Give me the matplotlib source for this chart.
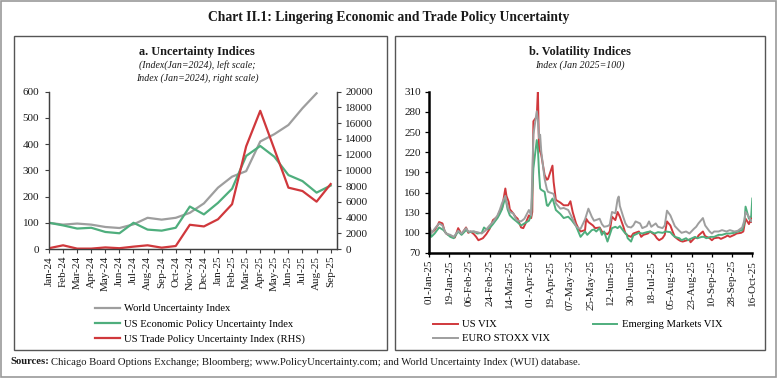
import matplotlib
matplotlib.use("Agg")
import matplotlib.pyplot as plt
from matplotlib.patches import Rectangle
import pandas as pd
import numpy as np

plt.rcParams['font.family'] = ['Liberation Serif', 'DejaVu Serif']

# ---------------- Panel a data ----------------
months = ['Jan-24', 'Feb-24', 'Mar-24', 'Apr-24', 'May-24', 'Jun-24', 'Jul-24', 'Aug-24',
          'Sep-24', 'Oct-24', 'Nov-24', 'Dec-24', 'Jan-25', 'Feb-25', 'Mar-25', 'Apr-25',
          'May-25', 'Jun-25', 'Jul-25', 'Aug-25', 'Sep-25']
wui = [100, 93, 97, 93, 84, 80, 94, 119, 112, 119, 138, 174, 234, 276, 297, 410,
       438, 473, 537, 594, np.nan]
us_epu = [100, 90, 78, 81, 65, 60, 100, 74, 70, 81, 162, 132, 176, 230, 355, 393,
          352, 282, 259, 215, 242]
us_tpu = [100, 470, 50, 50, 200, 100, 300, 470, 170, 380, 3080, 2870, 3780, 5700,
          13050, 17570, 12700, 7800, 7370, 6020, 8260]

# ---------------- Panel b data ----------------
vix_dates = ['2025-01-02', '2025-01-03', '2025-01-06', '2025-01-09', '2025-01-10', '2025-01-13',
             '2025-01-15', '2025-01-17', '2025-01-21', '2025-01-24', '2025-01-27', '2025-01-30',
             '2025-02-03', '2025-02-05', '2025-02-07', '2025-02-10', '2025-02-12', '2025-02-14',
             '2025-02-18', '2025-02-21', '2025-02-24', '2025-02-27', '2025-03-03', '2025-03-05',
             '2025-03-07', '2025-03-10', '2025-03-11', '2025-03-13', '2025-03-14', '2025-03-17',
             '2025-03-19', '2025-03-21', '2025-03-24', '2025-03-26', '2025-03-28', '2025-03-31',
             '2025-04-02', '2025-04-03', '2025-04-04', '2025-04-07', '2025-04-08', '2025-04-09',
             '2025-04-10', '2025-04-11', '2025-04-14', '2025-04-16', '2025-04-17', '2025-04-21',
             '2025-04-22', '2025-04-24', '2025-04-28', '2025-05-01', '2025-05-05', '2025-05-07',
             '2025-05-09', '2025-05-12', '2025-05-14', '2025-05-16', '2025-05-20', '2025-05-21',
             '2025-05-23', '2025-05-27', '2025-05-29', '2025-06-02', '2025-06-04', '2025-06-06',
             '2025-06-09', '2025-06-11', '2025-06-13', '2025-06-16', '2025-06-18', '2025-06-20',
             '2025-06-23', '2025-06-25', '2025-06-27', '2025-06-30', '2025-07-02', '2025-07-07',
             '2025-07-09', '2025-07-11', '2025-07-15', '2025-07-17', '2025-07-21', '2025-07-23',
             '2025-07-25', '2025-07-28', '2025-07-30', '2025-08-01', '2025-08-04', '2025-08-06',
             '2025-08-08', '2025-08-11', '2025-08-13', '2025-08-15', '2025-08-19', '2025-08-21',
             '2025-08-22', '2025-08-26', '2025-08-28', '2025-08-29', '2025-09-02', '2025-09-04',
             '2025-09-08', '2025-09-10', '2025-09-12', '2025-09-16', '2025-09-18', '2025-09-22',
             '2025-09-24', '2025-09-26', '2025-09-30', '2025-10-02', '2025-10-06', '2025-10-08',
             '2025-10-10', '2025-10-13', '2025-10-14', '2025-10-15', '2025-10-16']
vix_vals = [105, 100, 104, 112, 116, 114, 102, 98, 95, 93, 107, 98,
            108, 100, 102, 98, 94, 89, 92, 98, 106, 119, 124, 132,
            136, 166, 155, 146, 135, 129, 124, 121, 108, 107, 114, 126,
            122, 131, 266, 273, 312, 225, 221, 216, 186, 179, 180, 200,
            176, 149, 145, 141, 141, 147, 131, 114, 107, 102, 104, 121,
            116, 111, 107, 108, 102, 100, 98, 102, 124, 119, 131, 124,
            110, 99, 96, 94, 99, 102, 94, 97, 99, 102, 97, 92,
            89, 92, 97, 117, 111, 102, 94, 90, 88, 87, 89, 90,
            86, 93, 92, 96, 102, 95, 92, 89, 92, 93, 91, 94,
            96, 94, 97, 99, 100, 102, 121, 113, 118, 116, 132]

em_dates = ['2025-01-02', '2025-01-03', '2025-01-06', '2025-01-10', '2025-01-14', '2025-01-16',
            '2025-01-20', '2025-01-23', '2025-01-27', '2025-01-30', '2025-02-03', '2025-02-06',
            '2025-02-10', '2025-02-13', '2025-02-17', '2025-02-19', '2025-02-21', '2025-02-24',
            '2025-02-27', '2025-03-03', '2025-03-05', '2025-03-07', '2025-03-10', '2025-03-12',
            '2025-03-14', '2025-03-17', '2025-03-20', '2025-03-24', '2025-03-27', '2025-03-31',
            '2025-04-02', '2025-04-04', '2025-04-07', '2025-04-08', '2025-04-09', '2025-04-10',
            '2025-04-11', '2025-04-14', '2025-04-16', '2025-04-17', '2025-04-21', '2025-04-22',
            '2025-04-24', '2025-04-28', '2025-05-01', '2025-05-05', '2025-05-08', '2025-05-12',
            '2025-05-14', '2025-05-16', '2025-05-20', '2025-05-22', '2025-05-26', '2025-05-28',
            '2025-05-30', '2025-06-02', '2025-06-04', '2025-06-06', '2025-06-09', '2025-06-11',
            '2025-06-13', '2025-06-16', '2025-06-18', '2025-06-20', '2025-06-24', '2025-06-26',
            '2025-06-27', '2025-06-30', '2025-07-02', '2025-07-07', '2025-07-10', '2025-07-14',
            '2025-07-17', '2025-07-21', '2025-07-24', '2025-07-28', '2025-07-31', '2025-08-04',
            '2025-08-06', '2025-08-08', '2025-08-12', '2025-08-14', '2025-08-18', '2025-08-20',
            '2025-08-22', '2025-08-26', '2025-08-28', '2025-09-01', '2025-09-03', '2025-09-05',
            '2025-09-09', '2025-09-12', '2025-09-16', '2025-09-19', '2025-09-23', '2025-09-26',
            '2025-09-30', '2025-10-03', '2025-10-07', '2025-10-09', '2025-10-10', '2025-10-13',
            '2025-10-15', '2025-10-16']
em_vals = [102, 94, 99, 108, 104, 100, 94, 92, 102, 97, 104, 101,
           102, 99, 100, 108, 105, 107, 113, 122, 128, 135, 153, 135,
           126, 121, 117, 111, 114, 118, 126, 196, 238, 225, 190, 166,
           164, 161, 141, 140, 151, 146, 134, 128, 122, 124, 119, 110,
           102, 94, 102, 97, 104, 105, 102, 107, 97, 102, 87, 97,
           107, 109, 107, 110, 101, 98, 92, 87, 96, 100, 99, 101,
           102, 99, 101, 100, 102, 101, 97, 94, 92, 89, 92, 89,
           91, 94, 92, 94, 94, 92, 94, 94, 97, 97, 99, 99,
           100, 102, 104, 115, 139, 121, 124, 151]

vstoxx_dates = ['2025-01-02', '2025-01-03', '2025-01-06', '2025-01-10', '2025-01-13', '2025-01-16',
                '2025-01-20', '2025-01-23', '2025-01-27', '2025-01-30', '2025-02-03', '2025-02-05',
                '2025-02-10', '2025-02-13', '2025-02-17', '2025-02-20', '2025-02-24', '2025-02-27',
                '2025-03-03', '2025-03-05', '2025-03-07', '2025-03-10', '2025-03-12', '2025-03-14',
                '2025-03-17', '2025-03-20', '2025-03-24', '2025-03-27', '2025-03-31', '2025-04-02',
                '2025-04-04', '2025-04-07', '2025-04-08', '2025-04-09', '2025-04-10', '2025-04-11',
                '2025-04-14', '2025-04-16', '2025-04-17', '2025-04-22', '2025-04-24', '2025-04-28',
                '2025-05-01', '2025-05-05', '2025-05-08', '2025-05-12', '2025-05-14', '2025-05-16',
                '2025-05-20', '2025-05-23', '2025-05-26', '2025-05-28', '2025-06-02', '2025-06-04',
                '2025-06-06', '2025-06-09', '2025-06-11', '2025-06-13', '2025-06-16', '2025-06-18',
                '2025-06-19', '2025-06-20', '2025-06-23', '2025-06-25', '2025-06-27', '2025-06-30',
                '2025-07-02', '2025-07-04', '2025-07-08', '2025-07-10', '2025-07-14', '2025-07-16',
                '2025-07-18', '2025-07-22', '2025-07-24', '2025-07-28', '2025-07-30', '2025-08-01',
                '2025-08-04', '2025-08-06', '2025-08-08', '2025-08-12', '2025-08-14', '2025-08-18',
                '2025-08-21', '2025-08-25', '2025-08-27', '2025-08-29', '2025-09-02', '2025-09-04',
                '2025-09-08', '2025-09-10', '2025-09-12', '2025-09-16', '2025-09-19', '2025-09-23',
                '2025-09-26', '2025-09-30', '2025-10-03', '2025-10-07', '2025-10-09', '2025-10-10',
                '2025-10-13', '2025-10-15', '2025-10-16']
vstoxx_vals = [107, 99, 106, 114, 111, 99, 97, 94, 103, 99, 107, 102,
               102, 101, 99, 103, 111, 116, 126, 134, 144, 155, 139, 131,
               129, 119, 117, 121, 134, 126, 246, 281, 268, 241, 246, 221,
               180, 165, 161, 158, 144, 136, 137, 134, 124, 110, 107, 106,
               120, 136, 124, 118, 121, 113, 109, 110, 112, 131, 129, 150,
               154, 140, 124, 114, 109, 108, 111, 117, 114, 107, 110, 117,
               109, 114, 109, 107, 111, 133, 126, 118, 110, 103, 100, 102,
               99, 106, 109, 114, 122, 111, 102, 99, 102, 102, 104, 102,
               104, 102, 103, 108, 119, 131, 124, 117, 119]

b_ticks = ['01-Jan-25', '19-Jan-25', '06-Feb-25', '24-Feb-25', '14-Mar-25', '01-Apr-25',
           '19-Apr-25', '07-May-25', '25-May-25', '12-Jun-25', '30-Jun-25', '18-Jul-25',
           '05-Aug-25', '23-Aug-25', '10-Sep-25', '28-Sep-25', '16-Oct-25']

C_GRAY = '#9e9e9e'
C_GREEN = '#4fae7d'
C_RED = '#d0383c'
TXT = '#1a1a1a'

W, H = 778, 380
fig = plt.figure(figsize=(W / 100, H / 100), dpi=100)


def px_axes(x0, y0, x1, y1):
    return fig.add_axes([x0 / W, 1 - y1 / H, (x1 - x0) / W, (y1 - y0) / H])


# background decoration axes in pixel coordinates
bg = fig.add_axes([0, 0, 1, 1])
bg.set_xlim(0, W)
bg.set_ylim(H, 0)
bg.axis('off')
bg.add_patch(Rectangle((1, 1), W - 2.5, H - 4, fill=False, ec='#9a9a9a', lw=1.2))
bg.add_patch(Rectangle((14, 36), 373, 314, fill=False, ec='#555555', lw=1.0))
bg.add_patch(Rectangle((395, 36), 370, 314, fill=False, ec='#555555', lw=1.0))
bg.text(389, 17, 'Chart II.1: Lingering Economic and Trade Policy Uncertainty',
        ha='center', va='center', fontsize=9.8, fontweight='bold', color=TXT)
bg.text(197, 52, 'a. Uncertainty Indices', ha='center', va='center',
        fontsize=8.8, fontweight='bold', color=TXT)
bg.text(197, 65.5, '(Index(Jan=2024), left scale;', ha='center', va='center',
        fontsize=7.1, style='italic', color=TXT)
bg.text(197, 78.5, 'Index (Jan=2024), right scale)', ha='center', va='center',
        fontsize=7.1, style='italic', color=TXT)
bg.text(580, 52, 'b. Volatility Indices', ha='center', va='center',
        fontsize=8.8, fontweight='bold', color=TXT)
bg.text(580, 65.5, 'Index (Jan 2025=100)', ha='center', va='center',
        fontsize=7.1, style='italic', color=TXT)
bg.text(10, 362, 'Sources:', ha='left', va='center', fontsize=7.7, fontweight='bold', color=TXT)
bg.text(51, 362, 'Chicago Board Options Exchange; Bloomberg; www.PolicyUncertainty.com; '
        'and World Uncertainty Index (WUI) database.', ha='left', va='center',
        fontsize=7.7, color=TXT)

# ---------------- Panel a ----------------
ax = px_axes(49, 91.7, 337, 249)
x = np.arange(len(months))
ax.plot(x, wui, color=C_GRAY, lw=1.6, label='World Uncertainty Index')
ax.plot(x, us_epu, color=C_GREEN, lw=1.6, label='US Economic Policy Uncertainty Index')
ax2 = ax.twinx()
ax2.plot(x, us_tpu, color=C_RED, lw=1.6, label='US Trade Policy Uncertainty Index (RHS)')
ax.set_xlim(0, 20.45)
ax.set_ylim(0, 600)
ax2.set_ylim(0, 20000)
ax.set_yticks(range(0, 601, 100))
ax2.set_yticks(range(0, 20001, 2000))
ax.set_xticks(x)
ax.set_xticklabels(months, rotation=90)
for a in (ax, ax2):
    a.spines['top'].set_visible(False)
    for s in ('left', 'right', 'bottom'):
        a.spines[s].set_color('#404040')
        a.spines[s].set_linewidth(0.9)
    a.tick_params(direction='out', length=3, width=0.8, colors='#404040',
                  labelcolor=TXT, labelsize=8, pad=2)
ax.tick_params(axis='y', pad=4)
ax2.tick_params(axis='y', pad=3)

h1, l1 = ax.get_legend_handles_labels()
h2, l2 = ax2.get_legend_handles_labels()
fig.legend(h1 + h2, l1 + l2, loc='upper left', bbox_to_anchor=(95 / W, 1 - 304 / H),
           frameon=False, fontsize=7.7, handlelength=2.3, handletextpad=0.4,
           labelspacing=0.55, borderpad=0, borderaxespad=0)

# ---------------- Panel b ----------------
bx = px_axes(429, 91.7, 752.3, 253)
bx.plot(pd.to_datetime(vix_dates), vix_vals, color=C_RED, lw=1.4, label='US VIX')
bx.plot(pd.to_datetime(em_dates), em_vals, color=C_GREEN, lw=1.4, label='Emerging Markets VIX')
bx.plot(pd.to_datetime(vstoxx_dates), vstoxx_vals, color=C_GRAY, lw=1.4, label='EURO STOXX VIX')
bx.set_xlim(pd.Timestamp('2025-01-01'), pd.Timestamp('2025-10-16'))
bx.set_ylim(70, 310)
bx.set_yticks(range(70, 311, 30))
tick_dates = pd.to_datetime(b_ticks, format='%d-%b-%y')
bx.set_xticks(tick_dates)
bx.set_xticklabels(b_ticks, rotation=90)
bx.spines['top'].set_visible(False)
bx.spines['right'].set_visible(False)
for s in ('left', 'bottom'):
    bx.spines[s].set_color('black')
    bx.spines[s].set_linewidth(1.8)
bx.tick_params(direction='out', length=3, width=0.9, colors='black',
               labelcolor=TXT, labelsize=8, pad=2)
bx.tick_params(axis='y', pad=3)

hb, lb = bx.get_legend_handles_labels()
fig.legend([hb[0], hb[2], hb[1]], [lb[0], lb[2], lb[1]], loc='upper left',
           bbox_to_anchor=(433 / W, 1 - 320 / H), ncol=2, frameon=False, fontsize=7.7,
           handlelength=2.3, handletextpad=0.4, labelspacing=0.4, columnspacing=4.0,
           borderpad=0, borderaxespad=0)

fig.savefig('out.png', dpi=100)
